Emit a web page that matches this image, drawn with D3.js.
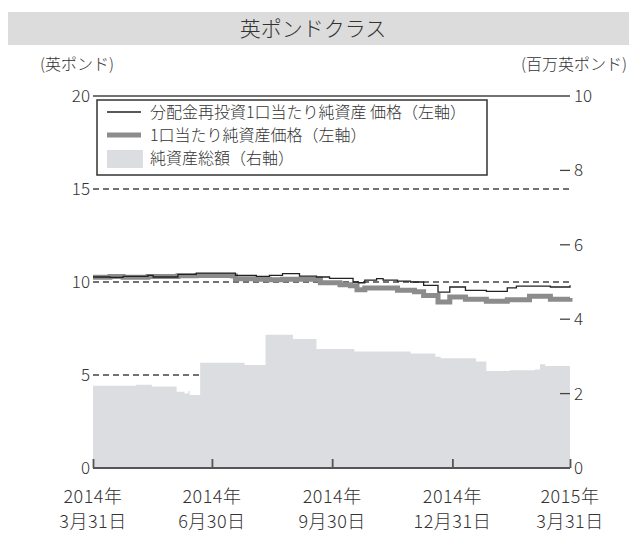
<!DOCTYPE html>
<html><head><meta charset="utf-8">
<script src="https://cdn.jsdelivr.net/npm/d3@7"></script>
<style>
body{margin:0;background:#fff;}
text{font-family:"Noto Sans CJK JP","Noto Sans",sans-serif;fill:#333;font-weight:300;}
</style></head>
<body><svg id="c" width="629" height="535"></svg>
<script>
const title = "英ポンドクラス";
const leftUnit = "(英ポンド)";
const rightUnit = "(百万英ポンド)";
const legendLabels = ["分配金再投資1口当たり純資産 価格（左軸）", "1口当たり純資産価格（左軸）", "純資産総額（右軸）"];
const xTickDates = ["2014-03-31","2014-06-30","2014-09-30","2014-12-31","2015-03-31"];
const xTickLabels = [["2014年","3月31日"],["2014年","6月30日"],["2014年","9月30日"],["2014年","12月31日"],["2015年","3月31日"]];
const leftTicks = [0,5,10,15,20];
const rightTicks = [0,2,4,6,8,10];

// 分配金再投資1口当たり純資産価格
const reinvDates = ["2014-03-31","2014-04-13","2014-04-23","2014-05-12","2014-05-16","2014-06-04","2014-06-18","2014-07-16","2014-07-18","2014-08-03","2014-08-13","2014-08-23","2014-09-04","2014-09-05","2014-09-18","2014-09-28","2014-10-08","2014-10-16","2014-10-20","2014-10-25","2014-11-03","2014-11-08","2014-11-19","2014-11-29","2014-12-09","2014-12-20","2014-12-29","2015-01-10","2015-01-26","2015-02-11","2015-02-18","2015-03-10","2015-03-16","2015-03-31"];
const reinvValues = [10.27,10.25,10.30,10.36,10.27,10.41,10.48,10.48,10.36,10.30,10.36,10.45,10.45,10.32,10.27,10.20,10.20,10.00,9.96,10.10,10.18,10.10,10.05,10.00,9.82,9.46,9.73,9.55,9.50,9.68,9.78,9.78,9.73,9.82];

// 1口当たり純資産価格
const navDates = ["2014-03-31","2014-04-13","2014-04-23","2014-05-12","2014-06-04","2014-06-18","2014-07-16","2014-07-18","2014-08-03","2014-08-13","2014-08-23","2014-09-04","2014-09-21","2014-10-06","2014-10-14","2014-10-19","2014-10-25","2014-11-08","2014-11-19","2014-12-02","2014-12-09","2014-12-20","2014-12-29","2015-01-10","2015-01-26","2015-02-11","2015-02-28","2015-03-16","2015-03-31"];
const navValues = [10.25,10.30,10.25,10.30,10.33,10.35,10.32,10.18,10.15,10.12,10.15,10.15,9.96,9.85,9.80,9.59,9.68,9.68,9.55,9.48,9.28,8.92,9.19,9.07,8.96,9.05,9.23,9.07,9.14];

// 純資産総額 (百万英ポンド)
const aumDates = ["2014-03-31","2014-05-03","2014-05-15","2014-06-03","2014-06-09","2014-06-12","2014-06-13","2014-06-21","2014-07-25","2014-08-10","2014-08-31","2014-09-18","2014-10-17","2014-11-29","2014-12-18","2014-12-22","2015-01-18","2015-01-26","2015-02-13","2015-03-04","2015-03-08","2015-03-12","2015-03-31"];
const aumValues = [2.21,2.24,2.19,2.05,2.00,2.07,1.96,2.83,2.77,3.58,3.47,3.20,3.13,3.08,2.99,2.95,2.86,2.61,2.63,2.65,2.79,2.74,2.74];

const parse = d3.timeParse("%Y-%m-%d");
const svg = d3.select("#c");
const X0 = 93, X1 = 570, Y0 = 468, Y1 = 96;
const x = d3.scaleTime().domain([parse("2014-03-31"), parse("2015-03-31")]).range([X0, X1]);
const yL = d3.scaleLinear().domain([0,20]).range([Y0, Y1]);
const yR = d3.scaleLinear().domain([0,10]).range([Y0, Y1]);

// title
svg.append("rect").attr("x",8).attr("y",12).attr("width",621).attr("height",33).attr("fill","#dcdcdc");
svg.append("text").attr("x",313).attr("y",36).attr("text-anchor","middle").attr("font-size",21).text(title);
svg.append("text").attr("x",40).attr("y",70).attr("font-size",16).text(leftUnit);
svg.append("text").attr("x",627).attr("y",70).attr("text-anchor","end").attr("font-size",16).text(rightUnit);

// gridlines
leftTicks.filter(v=>v>0 && v<20).forEach(v=>{
  svg.append("line").attr("x1",X0).attr("x2",X1).attr("y1",yL(v)).attr("y2",yL(v))
    .attr("stroke","#444").attr("stroke-width",1.3).attr("stroke-dasharray","6,4");
});
svg.append("line").attr("x1",X0).attr("x2",X1).attr("y1",yL(20)).attr("y2",yL(20)).attr("stroke","#444").attr("stroke-width",1.5);

// area
const aum = aumDates.map((d,i)=>({d:parse(d),v:aumValues[i]}));
svg.append("path").datum(aum)
  .attr("d", d3.area().curve(d3.curveStepAfter).x(d=>x(d.d)).y0(Y0).y1(d=>yR(d.v)))
  .attr("fill","#dcdde0");

// lines
const nav = navDates.map((d,i)=>({d:parse(d),v:navValues[i]}));
const reinv = reinvDates.map((d,i)=>({d:parse(d),v:reinvValues[i]}));
svg.append("path").datum(nav).attr("d", d3.line().curve(d3.curveStepAfter).x(d=>x(d.d)).y(d=>yL(d.v)))
  .attr("fill","none").attr("stroke","#8c8c8c").attr("stroke-width",5);
svg.append("path").datum(reinv).attr("d", d3.line().curve(d3.curveStepAfter).x(d=>x(d.d)).y(d=>yL(d.v)))
  .attr("fill","none").attr("stroke","#222").attr("stroke-width",1.3);

// left axis labels
leftTicks.forEach(v=>{
  svg.append("text").attr("x",90).attr("y",yL(v)+6).attr("text-anchor","end").attr("font-size",17).text(v);
});
// right axis
rightTicks.forEach(v=>{
  if(v>0 && v<10) svg.append("line").attr("x1",X1-10).attr("x2",X1).attr("y1",yR(v)).attr("y2",yR(v)).attr("stroke","#444").attr("stroke-width",1.3);
  svg.append("text").attr("x",574).attr("y",yR(v)+6).attr("font-size",17).text(v);
});

// x axis
const xAxis = svg.append("g").attr("transform",`translate(0,${Y0})`)
  .call(d3.axisBottom(x).tickValues(xTickDates.map(parse)).tickSize(-9).tickFormat(""));
xAxis.select(".domain").attr("stroke","#555").attr("stroke-width",2.2).attr("d",`M${X0},0H${X1}`);
xAxis.selectAll(".tick line").attr("stroke","#555").attr("stroke-width",1.8);
xTickDates.forEach((d,i)=>{
  const t = svg.append("text").attr("x",x(parse(d))).attr("text-anchor","middle").attr("font-size",18).attr("letter-spacing",0.5);
  t.append("tspan").attr("x",x(parse(d))).attr("y",503).text(xTickLabels[i][0]);
  t.append("tspan").attr("x",x(parse(d))).attr("y",528).text(xTickLabels[i][1]);
});

// legend
const lg = svg.append("g");
lg.append("rect").attr("x",97).attr("y",100).attr("width",390).attr("height",75).attr("fill","#fff").attr("stroke","#333").attr("stroke-width",1.5);
lg.append("line").attr("x1",107).attr("x2",141).attr("y1",112).attr("y2",112).attr("stroke","#222").attr("stroke-width",1.3);
lg.append("line").attr("x1",107).attr("x2",141).attr("y1",135).attr("y2",135).attr("stroke","#8c8c8c").attr("stroke-width",5);
lg.append("rect").attr("x",107).attr("y",150).attr("width",36).attr("height",18).attr("fill","#dcdde0");
legendLabels.forEach((t,i)=>{
  lg.append("text").attr("x",150).attr("y",112+23*i+6).attr("font-size",16).text(t);
});
</script></body></html>
